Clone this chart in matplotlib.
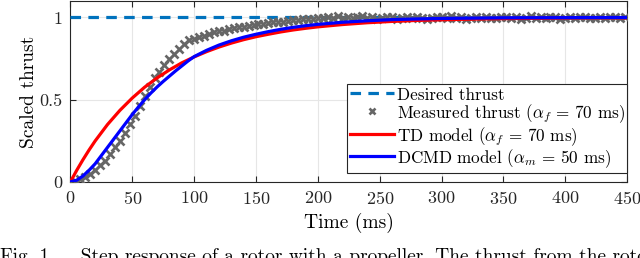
#!/usr/bin/env python3
"""Step response of a rotor: measured thrust vs TD and DCMD models."""

import numpy as np
import matplotlib
matplotlib.use('Agg')
import matplotlib.pyplot as plt

# Measured thrust, sampled every 4 ms (0 .. 448 ms)
t_meas = np.arange(0, 449, 4)
thrust_meas = [
    0.00, 0.00, 0.02, 0.03, 0.05, 0.07, 0.10, 0.13, 0.17, 0.21,
    0.25, 0.30, 0.35, 0.40, 0.46, 0.52, 0.58, 0.63, 0.67, 0.71,
    0.75, 0.78, 0.81, 0.84, 0.86, 0.87, 0.88, 0.89, 0.90, 0.91,
    0.915, 0.92, 0.93, 0.935, 0.94, 0.945, 0.95, 0.955, 0.958, 0.962,
    0.966, 0.97, 0.972, 0.975, 0.98, 0.982, 0.985, 0.988, 0.99, 0.993,
    0.995, 0.998, 1.004, 0.996, 1.006, 0.999, 1.003, 0.994, 1.002, 1.007,
    0.997, 1.001, 0.993, 0.998, 1.004, 1.000, 0.990, 0.995, 1.002, 0.997,
    1.005, 0.999, 0.992, 0.996, 1.003, 1.001, 0.998, 1.006, 0.995, 1.000,
    0.991, 0.997, 1.004, 0.999, 1.002, 0.994, 0.998, 1.005, 1.001, 0.996,
    1.003, 0.993, 0.999, 1.006, 0.997, 1.002, 0.995, 1.000, 1.004, 0.992,
    0.998, 1.003, 0.996, 1.001, 1.005, 0.994, 0.999, 1.002, 0.997, 1.004,
    1.000, 0.996, 1.003,
]

# TD model (alpha_f = 70 ms)
t_td = [0, 5, 10, 15, 20, 30, 40, 50, 60, 70, 80, 90, 100, 110, 120, 130,
        140, 150, 160, 170, 180, 190, 200, 220, 240, 260, 280, 300, 325,
        350, 375, 400, 425, 450]
thrust_td = [0.0, 0.069, 0.133, 0.193, 0.249, 0.349, 0.435, 0.510, 0.576,
             0.632, 0.681, 0.724, 0.760, 0.792, 0.820, 0.844, 0.865, 0.883,
             0.898, 0.912, 0.924, 0.934, 0.943, 0.957, 0.968, 0.976, 0.982,
             0.986, 0.990, 0.993, 0.995, 0.997, 0.998, 0.998]

# DCMD model (alpha_m = 50 ms)
t_dcmd = [0, 5, 10, 15, 20, 25, 30, 35, 40, 45, 50, 55, 60, 65, 70, 75, 80,
          85, 90, 95, 100, 110, 120, 130, 140, 150, 160, 170, 180, 190, 200,
          220, 240, 260, 280, 300, 325, 350, 400, 450]
thrust_dcmd = [0.0, 0.01, 0.035, 0.07, 0.11, 0.16, 0.21, 0.26, 0.31, 0.36,
               0.41, 0.456, 0.50, 0.54, 0.577, 0.611, 0.643, 0.675, 0.705,
               0.735, 0.762, 0.80, 0.832, 0.858, 0.88, 0.898, 0.914, 0.928,
               0.94, 0.95, 0.958, 0.971, 0.980, 0.987, 0.991, 0.994, 0.996,
               0.998, 0.999, 1.0]

x_ticks = [0, 50, 100, 150, 200, 250, 300, 350, 400, 450]
y_ticks = [0, 0.5, 1]

plt.rcParams['font.family'] = 'serif'
plt.rcParams['font.serif'] = ['cmr10']
plt.rcParams['mathtext.fontset'] = 'cm'
plt.rcParams['axes.unicode_minus'] = False
plt.rcParams['axes.formatter.use_mathtext'] = True

fig = plt.figure(figsize=(6.4, 2.58), dpi=100)
ax = fig.add_axes([0.110, 0.295, 0.870, 0.701])

ax.axhline(1.0, color='#0072BD', linewidth=2.3, linestyle=(0, (3.3, 2.3)),
           label='Desired thrust', zorder=3)
ax.plot(t_meas, thrust_meas, linestyle='none', marker='x', markersize=5.2,
        markeredgewidth=1.9, color='#666666',
        label=r'Measured thrust ($\alpha_f\,=\,70$ ms)', zorder=4)
ax.plot(t_td, thrust_td, color='red', linewidth=2.3,
        label=r'TD model ($\alpha_f\,=\,70$ ms)', zorder=5)
ax.plot(t_dcmd, thrust_dcmd, color='blue', linewidth=2.3,
        label=r'DCMD model ($\alpha_m\,=\,50$ ms)', zorder=6)

ax.set_xlim(0, 450)
ax.set_ylim(0, 1.1)
ax.set_xticks(x_ticks)
ax.set_yticks(y_ticks)
ax.set_yticklabels(['0', '0.5', '1'])
ax.tick_params(direction='in', top=True, right=True, labelsize=13,
               length=4, width=0.8, colors='#262626', pad=6)
ax.grid(True, color='#e6e6e6', linewidth=0.8)
ax.set_axisbelow(True)
for spine in ax.spines.values():
    spine.set_color('#262626')
    spine.set_linewidth(0.8)

ax.set_xlabel('Time (ms)', fontsize=14, labelpad=4)
ax.set_ylabel('Scaled thrust', fontsize=14, labelpad=1)

leg = ax.legend(loc='lower right', bbox_to_anchor=(1.0, 0.05), fontsize=12.3,
                frameon=True, fancybox=False, edgecolor='#262626',
                framealpha=1, handlelength=2.6, handleheight=1.15,
                handletextpad=0.15, labelspacing=0.0, borderpad=0.15,
                borderaxespad=0.0, numpoints=1, markerscale=0.8)
leg.get_frame().set_linewidth(0.8)

fig.text(0.0, 0.038, 'Fig. 1.    Step response of a rotor with a propeller. '
         'The thrust from the rotor', fontsize=14, va='top', ha='left')

fig.savefig('out.png', dpi=100)
